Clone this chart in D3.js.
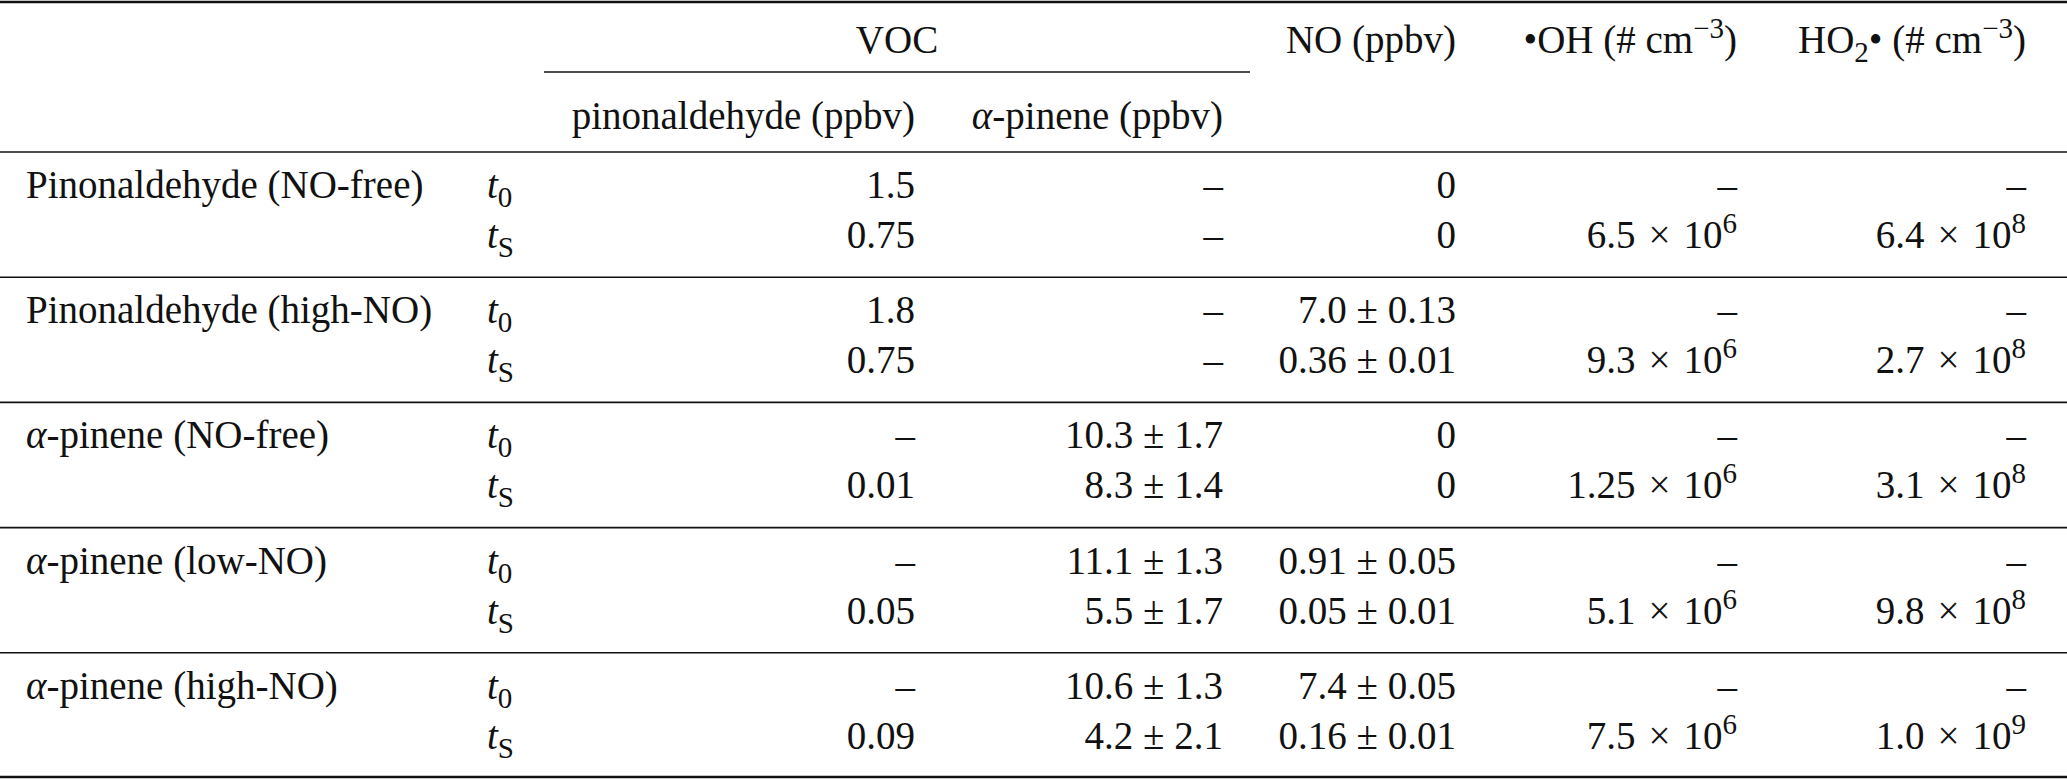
<!DOCTYPE html>
<html>
<head>
<meta charset="utf-8">
<script src="https://cdn.jsdelivr.net/npm/d3@7"></script>
<style>
  html, body { margin: 0; padding: 0; background: #fff; }
  svg { display: block; }
</style>
</head>
<body>
<div id="table"></div>
<script>
// experiment labels and the two sampling times of each
const experiments = [
  "Pinonaldehyde (NO-free)",
  "Pinonaldehyde (high-NO)",
  "α-pinene (NO-free)",
  "α-pinene (low-NO)",
  "α-pinene (high-NO)"
];
const times = ["0", "S"];

// values per experiment: [t0, tS]
const pinonaldehyde = [["1.5", "0.75"], ["1.8", "0.75"], ["–", "0.01"], ["–", "0.05"], ["–", "0.09"]];
const alphaPinene = [["–", "–"], ["–", "–"], ["10.3 ± 1.7", "8.3 ± 1.4"], ["11.1 ± 1.3", "5.5 ± 1.7"], ["10.6 ± 1.3", "4.2 ± 2.1"]];
const noPpbv = [["0", "0"], ["7.0 ± 0.13", "0.36 ± 0.01"], ["0", "0"], ["0.91 ± 0.05", "0.05 ± 0.01"], ["7.4 ± 0.05", "0.16 ± 0.01"]];
// radicals only at tS: [mantissa, exponent]
const ohConc = [["6.5", "6"], ["9.3", "6"], ["1.25", "6"], ["5.1", "6"], ["7.5", "6"]];
const ho2Conc = [["6.4", "8"], ["2.7", "8"], ["3.1", "8"], ["9.8", "8"], ["1.0", "9"]];

const W = 2067, H = 781;
const fontSize = 39;
const small = "29px";

const svg = d3.select("#table")
  .append("svg")
  .attr("width", W)
  .attr("height", H)
  .attr("viewBox", `0 0 ${W} ${H}`)
  .style("font-family", "'Liberation Serif', 'Times New Roman', serif")
  .style("font-size", fontSize + "px")
  .attr("fill", "#111");

// vertical layout: one band per experiment
const y = d3.scaleLinear().domain([0, experiments.length]).range([152, 778]);
const rowY = (i, k) => y(i) + (k === 0 ? 46 : 96);

// right edges of numeric columns
const colRight = { pin: 915, api: 1223, no: 1456, oh: 1737, ho2: 2026 };

// rules
const rule = (x1, x2, yy, w) => svg.append("line")
  .attr("x1", x1).attr("x2", x2).attr("y1", yy).attr("y2", yy)
  .attr("stroke", "#111").attr("stroke-width", w);

rule(0, W, 2, 2.4);
rule(544, 1250, 72, 1.6);
rule(0, W, y(0), 1.6);
d3.range(1, experiments.length).forEach(i => rule(0, W, y(i), 1.6));
rule(0, W, y(experiments.length) - 1, 2.4);

// header
const head1 = 53, head2 = 129;
svg.append("text").attr("x", 897).attr("y", head1).attr("text-anchor", "middle").text("VOC");
svg.append("text").attr("x", colRight.no).attr("y", head1).attr("text-anchor", "end").text("NO (ppbv)");

const unitHeader = (xr, build) => {
  const t = svg.append("text").attr("x", xr).attr("y", head1).attr("text-anchor", "end");
  build(t);
};
unitHeader(colRight.oh, t => {
  t.append("tspan").text("•OH (# cm");
  t.append("tspan").attr("dy", -15).style("font-size", small).text("−3");
  t.append("tspan").attr("dy", 15).text(")");
});
unitHeader(colRight.ho2, t => {
  t.append("tspan").text("HO");
  t.append("tspan").attr("dy", 9).style("font-size", small).text("2");
  t.append("tspan").attr("dy", -9).text("• (# cm");
  t.append("tspan").attr("dy", -15).style("font-size", small).text("−3");
  t.append("tspan").attr("dy", 15).text(")");
});

svg.append("text").attr("x", colRight.pin).attr("y", head2).attr("text-anchor", "end").text("pinonaldehyde (ppbv)");
const apHead = svg.append("text").attr("x", colRight.api).attr("y", head2).attr("text-anchor", "end");
apHead.append("tspan").style("font-style", "italic").text("α");
apHead.append("tspan").text("-pinene (ppbv)");

// body
const groups = svg.selectAll(".exp")
  .data(experiments)
  .join("g")
  .attr("class", "exp");

// experiment label (α in italic)
groups.append("text")
  .attr("x", 26)
  .attr("y", (d, i) => rowY(i, 0))
  .each(function(d) {
    const t = d3.select(this);
    if (d.startsWith("α")) {
      t.append("tspan").style("font-style", "italic").text("α");
      t.append("tspan").text(d.slice(1));
    } else {
      t.text(d);
    }
  });

// time labels t0 / tS
experiments.forEach((e, i) => {
  times.forEach((s, k) => {
    const t = svg.append("text").attr("x", 487).attr("y", rowY(i, k));
    t.append("tspan").style("font-style", "italic").text("t");
    t.append("tspan").attr("dy", 9).style("font-size", small).text(s);
  });
});

const plainCol = (values, xr) => {
  values.forEach((pair, i) => {
    pair.forEach((v, k) => {
      svg.append("text")
        .attr("x", xr)
        .attr("y", rowY(i, k))
        .attr("text-anchor", "end")
        .text(v);
    });
  });
};
plainCol(pinonaldehyde, colRight.pin);
plainCol(alphaPinene, colRight.api);
plainCol(noPpbv, colRight.no);

const sciCol = (values, xr) => {
  values.forEach((m, i) => {
    svg.append("text").attr("x", xr).attr("y", rowY(i, 0)).attr("text-anchor", "end").text("–");
    const t = svg.append("text").attr("x", xr).attr("y", rowY(i, 1)).attr("text-anchor", "end");
    t.append("tspan").text(`${m[0]}\u2004×\u200410`);
    t.append("tspan").attr("dy", -15).style("font-size", small).text(m[1]);
  });
};
sciCol(ohConc, colRight.oh);
sciCol(ho2Conc, colRight.ho2);
</script>
</body>
</html>
